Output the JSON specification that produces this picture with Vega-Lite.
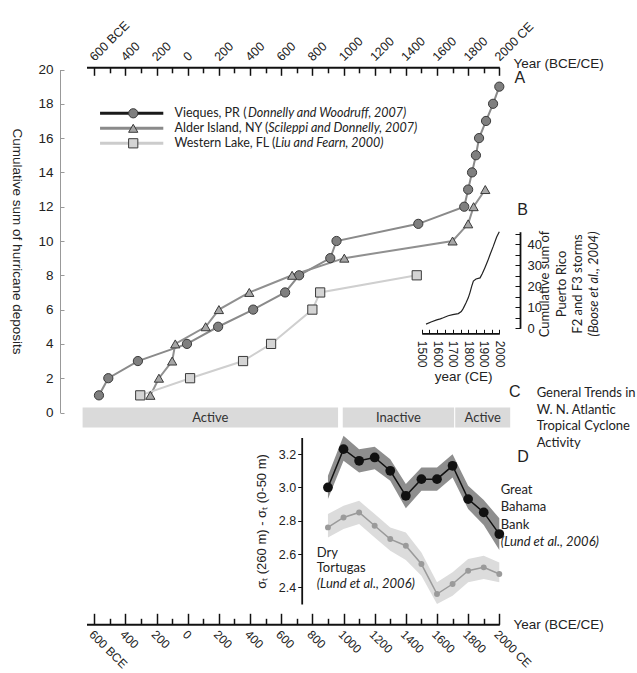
{
  "$schema": "https://vega.github.io/schema/vega-lite/v6.json",
  "width": 637,
  "height": 673,
  "autosize": "none",
  "padding": 0,
  "background": "white",
  "config": {
    "view": {"stroke": null},
    "axis": {"grid": false, "labelFont": "Liberation Sans", "titleFont": "Liberation Sans", "titleFontWeight": "normal", "labelColor": "#222", "titleColor": "#222", "labelOverlap": false, "labelFlush": false, "labelBound": false},
    "text": {"font": "Lato", "fontSize": 13, "color": "#222"}
  },
  "datasets": {
    "deposits": [
      {"site": "Vieques", "year": -570, "count": 1}, {"site": "Vieques", "year": -510, "count": 2}, {"site": "Vieques", "year": -320, "count": 3}, {"site": "Vieques", "year": -5, "count": 4}, {"site": "Vieques", "year": 195, "count": 5}, {"site": "Vieques", "year": 420, "count": 6}, {"site": "Vieques", "year": 625, "count": 7}, {"site": "Vieques", "year": 715, "count": 8}, {"site": "Vieques", "year": 915, "count": 9}, {"site": "Vieques", "year": 955, "count": 10}, {"site": "Vieques", "year": 1480, "count": 11}, {"site": "Vieques", "year": 1775, "count": 12}, {"site": "Vieques", "year": 1800, "count": 13}, {"site": "Vieques", "year": 1825, "count": 14}, {"site": "Vieques", "year": 1850, "count": 15}, {"site": "Vieques", "year": 1870, "count": 16}, {"site": "Vieques", "year": 1915, "count": 17}, {"site": "Vieques", "year": 1960, "count": 18}, {"site": "Vieques", "year": 2000, "count": 19},
      {"site": "Alder", "year": -240, "count": 1}, {"site": "Alder", "year": -185, "count": 2}, {"site": "Alder", "year": -100, "count": 3}, {"site": "Alder", "year": -80, "count": 4}, {"site": "Alder", "year": 115, "count": 5}, {"site": "Alder", "year": 200, "count": 6}, {"site": "Alder", "year": 395, "count": 7}, {"site": "Alder", "year": 670, "count": 8}, {"site": "Alder", "year": 1005, "count": 9}, {"site": "Alder", "year": 1700, "count": 10}, {"site": "Alder", "year": 1800, "count": 11}, {"site": "Alder", "year": 1835, "count": 12}, {"site": "Alder", "year": 1910, "count": 13},
      {"site": "Western", "year": -305, "count": 1}, {"site": "Western", "year": 15, "count": 2}, {"site": "Western", "year": 355, "count": 3}, {"site": "Western", "year": 535, "count": 4}, {"site": "Western", "year": 800, "count": 6}, {"site": "Western", "year": 850, "count": 7}, {"site": "Western", "year": 1470, "count": 8}
    ],
    "legend": [
      {"site": "Vieques", "name": "Vieques, PR (", "cite": "Donnelly and Woodruff, 2007)"},
      {"site": "Alder", "name": "Alder Island, NY (", "cite": "Scileppi and Donnelly, 2007)"},
      {"site": "Western", "name": "Western Lake, FL (", "cite": "Liu and Fearn, 2000)"}
    ],
    "storms": [
      {"year": 1528, "storms": 2}, {"year": 1560, "storms": 3}, {"year": 1597, "storms": 4}, {"year": 1620, "storms": 4.5}, {"year": 1639, "storms": 5}, {"year": 1671, "storms": 6}, {"year": 1700, "storms": 6.5}, {"year": 1736, "storms": 7}, {"year": 1755, "storms": 8}, {"year": 1768, "storms": 9.5}, {"year": 1785, "storms": 12}, {"year": 1800, "storms": 14.5}, {"year": 1811, "storms": 17}, {"year": 1822, "storms": 20}, {"year": 1833, "storms": 22.5}, {"year": 1850, "storms": 23.5}, {"year": 1876, "storms": 24}, {"year": 1890, "storms": 26}, {"year": 1908, "storms": 29}, {"year": 1925, "storms": 32}, {"year": 1940, "storms": 35}, {"year": 1961, "storms": 39}, {"year": 1983, "storms": 43.5}, {"year": 2000, "storms": 46}
    ],
    "trends": [
      {"label": "Active", "start": -675, "end": 965},
      {"label": "Inactive", "start": 995, "end": 1710},
      {"label": "Active", "start": 1717, "end": 2070}
    ],
    "sigma": [
      {"site": "GBB", "year": 900, "value": 3.0, "lo": 2.93, "hi": 3.07},
      {"site": "GBB", "year": 1000, "value": 3.23, "lo": 3.16, "hi": 3.31},
      {"site": "GBB", "year": 1100, "value": 3.16, "lo": 3.09, "hi": 3.23},
      {"site": "GBB", "year": 1200, "value": 3.18, "lo": 3.11, "hi": 3.245},
      {"site": "GBB", "year": 1300, "value": 3.1, "lo": 3.04, "hi": 3.17},
      {"site": "GBB", "year": 1400, "value": 2.95, "lo": 2.875, "hi": 3.02},
      {"site": "GBB", "year": 1500, "value": 3.05, "lo": 2.98, "hi": 3.12},
      {"site": "GBB", "year": 1600, "value": 3.05, "lo": 2.98, "hi": 3.12},
      {"site": "GBB", "year": 1700, "value": 3.13, "lo": 3.06, "hi": 3.2},
      {"site": "GBB", "year": 1800, "value": 2.93, "lo": 2.87, "hi": 3.01},
      {"site": "GBB", "year": 1900, "value": 2.85, "lo": 2.775, "hi": 2.925},
      {"site": "GBB", "year": 2000, "value": 2.72, "lo": 2.625, "hi": 2.815},
      {"site": "DT", "year": 900, "value": 2.76, "lo": 2.7, "hi": 2.84},
      {"site": "DT", "year": 1000, "value": 2.82, "lo": 2.75, "hi": 2.89},
      {"site": "DT", "year": 1100, "value": 2.85, "lo": 2.78, "hi": 2.92},
      {"site": "DT", "year": 1200, "value": 2.77, "lo": 2.7, "hi": 2.84},
      {"site": "DT", "year": 1300, "value": 2.69, "lo": 2.62, "hi": 2.76},
      {"site": "DT", "year": 1400, "value": 2.65, "lo": 2.565, "hi": 2.73},
      {"site": "DT", "year": 1500, "value": 2.54, "lo": 2.47, "hi": 2.61},
      {"site": "DT", "year": 1600, "value": 2.36, "lo": 2.3, "hi": 2.43},
      {"site": "DT", "year": 1700, "value": 2.42, "lo": 2.35, "hi": 2.49},
      {"site": "DT", "year": 1800, "value": 2.5, "lo": 2.43, "hi": 2.57},
      {"site": "DT", "year": 1900, "value": 2.52, "lo": 2.45, "hi": 2.59},
      {"site": "DT", "year": 2000, "value": 2.48, "lo": 2.43, "hi": 2.55}
    ]
  },
  "layer": [
    {
      "data": {"name": "deposits"},
      "resolve": {"axis": {"x": "independent", "y": "independent"}},
      "layer": [
        {
          "mark": {"type": "line", "strokeWidth": 2},
          "encoding": {
            "x": {"field": "year", "type": "quantitative", "scale": {"domain": [-650, 2000], "range": [86.5, 499.3], "nice": false, "zero": false},
              "axis": {"orient": "top", "offset": -67.3, "values": [-600, -400, -200, 0, 200, 400, 600, 800, 1000, 1200, 1400, 1600, 1800, 2000],
                "labelExpr": "datum.value == -600 ? '600 BCE' : (datum.value == 2000 ? '2000 CE' : format(abs(datum.value), 'd'))",
                "labelAngle": -45, "labelAlign": "left", "labelBaseline": "alphabetic", "labelPadding": 14, "labelFontSize": 12.5,
                "tickSize": -8,
                "tickColor": "#111", "tickWidth": 1.5, "domainColor": "#111", "domainWidth": 2,
                "title": "Year (BCE/CE)", "titleX": 513, "titleY": -4, "titleAlign": "left", "titleBaseline": "middle", "titleAngle": 0, "titleFontSize": 13.5}},
            "y": {"field": "count", "type": "quantitative", "scale": {"domain": [0, 20], "range": [412.5, 69.5], "nice": false, "zero": false},
              "axis": {"orient": "left", "offset": -60, "values": [0, 2, 4, 6, 8, 10, 12, 14, 16, 18, 20], "tickSize": -4, "labelPadding": 11, "labelFontSize": 13.5, "domainColor": "#999", "tickColor": "#999",
                "title": "Cumulative sum of hurricane deposits", "titleAngle": 90, "titleX": -44, "titleY": 241, "titleAlign": "center", "titleBaseline": "middle", "titleFontSize": 13.5}},
            "color": {"field": "site", "type": "nominal", "scale": {"domain": ["Vieques", "Alder", "Western"], "range": ["#8a8a8a", "#909090", "#cfcfcf"]}, "legend": null}
          }
        },
        {
          "mark": {"type": "point", "filled": true, "stroke": "#3a3a3a", "strokeWidth": 1, "opacity": 1, "size": 85},
          "encoding": {
            "x": {"field": "year", "type": "quantitative",
              "axis": {"orient": "bottom", "offset": -605.7, "values": [-500, -300, -100, 100, 300, 500, 700, 900, 1100, 1300, 1500, 1700, 1900], "tickSize": 5.5, "tickColor": "#111", "tickWidth": 1.5, "labels": false, "domain": false, "title": null}},
            "y": {"field": "count", "type": "quantitative", "axis": null},
            "shape": {"field": "site", "type": "nominal", "scale": {"domain": ["Vieques", "Alder", "Western"], "range": ["circle", "triangle-up", "square"]}, "legend": null},
            "fill": {"field": "site", "type": "nominal", "scale": {"domain": ["Vieques", "Alder", "Western"], "range": ["#7f7f7f", "#a6a6a6", "#d4d4d4"]}, "legend": null}
          }
        },
        {
          "data": {"values": [{}]},
          "mark": {"type": "text", "text": "A", "font": "Liberation Sans", "fontSize": 16, "align": "center", "baseline": "middle"},
          "encoding": {"x": {"datum": 2132, "axis": null}, "y": {"datum": 19.49, "axis": null}}
        },
        {
          "data": {"values": [{}]},
          "mark": {"type": "text", "text": "B", "font": "Liberation Sans", "fontSize": 16, "align": "center", "baseline": "middle"},
          "encoding": {"x": {"datum": 2150, "axis": null}, "y": {"datum": 11.81, "axis": null}}
        }
      ]
    },
    {
      "data": {"name": "legend"},
      "resolve": {"axis": {"x": "independent", "y": "independent"}},
      "layer": [
        {
          "mark": {"type": "rule", "strokeWidth": 3},
          "encoding": {
            "x": {"datum": -563, "scale": {"domain": [-650, 2000], "range": [86.5, 499.3], "nice": false, "zero": false}, "axis": null},
            "x2": {"datum": -157},
            "y": {"field": "site", "type": "nominal", "scale": {"type": "point", "domain": ["Vieques", "Alder", "Western"], "range": [113.3, 143.3], "padding": 0}, "axis": null},
            "stroke": {"field": "site", "type": "nominal", "scale": {"domain": ["Vieques", "Alder", "Western"], "range": ["#1a1a1a", "#8a8a8a", "#cccccc"]}, "legend": null}
          }
        },
        {
          "mark": {"type": "point", "filled": true, "stroke": "#3a3a3a", "strokeWidth": 1, "opacity": 1, "size": 85},
          "encoding": {
            "x": {"datum": -350, "axis": null},
            "y": {"field": "site", "type": "nominal", "axis": null},
            "shape": {"field": "site", "type": "nominal", "scale": {"domain": ["Vieques", "Alder", "Western"], "range": ["circle", "triangle-up", "square"]}, "legend": null},
            "fill": {"field": "site", "type": "nominal", "scale": {"domain": ["Vieques", "Alder", "Western"], "range": ["#7f7f7f", "#a6a6a6", "#d4d4d4"]}, "legend": null}
          }
        },
        {
          "mark": {"type": "text", "align": "left", "baseline": "middle", "fontSize": 12.5},
          "encoding": {"x": {"datum": -85, "axis": null}, "y": {"field": "site", "type": "nominal", "axis": null}, "text": {"field": "name"}}
        },
        {
          "transform": [{"filter": "datum.site == 'Vieques'"}],
          "mark": {"type": "text", "align": "left", "baseline": "middle", "fontSize": 12.5, "fontStyle": "italic"},
          "encoding": {"x": {"datum": 387, "axis": null}, "y": {"field": "site", "type": "nominal", "axis": null}, "text": {"field": "cite"}}
        },
        {
          "transform": [{"filter": "datum.site == 'Alder'"}],
          "mark": {"type": "text", "align": "left", "baseline": "middle", "fontSize": 12.5, "fontStyle": "italic"},
          "encoding": {"x": {"datum": 517, "axis": null}, "y": {"field": "site", "type": "nominal", "axis": null}, "text": {"field": "cite"}}
        },
        {
          "transform": [{"filter": "datum.site == 'Western'"}],
          "mark": {"type": "text", "align": "left", "baseline": "middle", "fontSize": 12.5, "fontStyle": "italic"},
          "encoding": {"x": {"datum": 562, "axis": null}, "y": {"field": "site", "type": "nominal", "axis": null}, "text": {"field": "cite"}}
        }
      ]
    },
    {
      "data": {"name": "storms"},
      "resolve": {"axis": {"x": "independent", "y": "independent"}},
      "layer": [
        {
          "mark": {"type": "line", "color": "#222", "strokeWidth": 1.2},
          "encoding": {
            "x": {"field": "year", "type": "quantitative", "scale": {"domain": [1500, 2000], "range": [421.7, 499.3], "nice": false, "zero": false},
              "axis": {"orient": "bottom", "offset": -339.7, "values": [1500, 1550, 1600, 1650, 1700, 1750, 1800, 1850, 1900, 1950, 2000], "format": "d",
                "labelExpr": "datum.value % 100 == 0 ? datum.label : ''", "labelAngle": 90, "labelAlign": "left", "labelBaseline": "middle", "labelPadding": 11, "labelFontSize": 12,
                "tickSize": -4, "tickColor": "#111", "domainColor": "#111", "domainWidth": 1.8,
                "title": "year (CE)", "titleX": 463, "titleY": 43, "titleAlign": "center", "titleBaseline": "middle", "titleAngle": 0, "titleFontSize": 13.5}},
            "y": {"field": "storms", "type": "quantitative", "scale": {"domain": [0, 46], "range": [328.3, 231.7], "nice": false, "zero": false},
              "axis": {"orient": "right", "offset": -117, "values": [0, 5, 10, 15, 20, 25, 30, 35, 40, 45],
                "labelExpr": "datum.value % 10 == 0 ? datum.label : ''", "labelPadding": 12, "labelFontSize": 13,
                "tickSize": -5, "tickColor": "#111", "domainColor": "#111", "domainWidth": 1.8, "title": null}}
          }
        },
        {
          "data": {"values": [{}]},
          "mark": {"type": "text", "angle": 270, "align": "center", "baseline": "middle", "lineHeight": 16.7, "fontSize": 13, "text": ["Cumulative sum of", "Puerto Rico", "F2 and F3 storms"]},
          "encoding": {"x": {"datum": 2294, "axis": null}, "y": {"datum": 21.1, "axis": null}}
        },
        {
          "data": {"values": [{}]},
          "mark": {"type": "text", "angle": 270, "align": "center", "baseline": "middle", "fontSize": 13, "fontStyle": "italic", "text": "(Boose et al., 2004)"},
          "encoding": {"x": {"datum": 2612, "axis": null}, "y": {"datum": 21.1, "axis": null}}
        }
      ]
    },
    {
      "data": {"name": "trends"},
      "resolve": {"axis": {"x": "independent", "y": "independent"}},
      "layer": [
        {
          "mark": {"type": "rect", "fill": "#dadada"},
          "encoding": {
            "x": {"field": "start", "type": "quantitative", "scale": {"domain": [-650, 2000], "range": [86.5, 499.3], "nice": false, "zero": false}, "axis": null},
            "x2": {"field": "end"},
            "y": {"datum": 0, "scale": {"domain": [0, 1], "range": [427.5, 407.5], "nice": false, "zero": false}, "axis": null},
            "y2": {"datum": 1}
          }
        },
        {
          "transform": [{"fold": ["start", "end"], "as": ["edge", "yr"]}],
          "mark": {"type": "text", "fontSize": 13, "color": "#333", "align": "center", "baseline": "middle"},
          "encoding": {
            "x": {"aggregate": "mean", "field": "yr", "type": "quantitative", "axis": null},
            "y": {"datum": 0.5, "axis": null},
            "text": {"field": "label", "type": "nominal"},
            "detail": {"field": "start", "type": "quantitative"}
          }
        },
        {
          "data": {"values": [{}]},
          "mark": {"type": "text", "text": "C", "font": "Liberation Sans", "fontSize": 16, "align": "center", "baseline": "middle"},
          "encoding": {"x": {"datum": 2100, "axis": null}, "y": {"datum": 1.79, "axis": null}}
        },
        {
          "data": {"values": [{}]},
          "mark": {"type": "text", "text": ["General Trends in", "W. N. Atlantic", "Tropical Cyclone", "Activity"], "lineHeight": 16.7, "fontSize": 13, "align": "left", "baseline": "middle"},
          "encoding": {"x": {"datum": 2240, "axis": null}, "y": {"datum": 1.725, "axis": null}}
        }
      ]
    },
    {
      "data": {"name": "sigma"},
      "resolve": {"axis": {"x": "independent", "y": "independent"}},
      "layer": [
        {
          "mark": {"type": "area", "opacity": 1},
          "encoding": {
            "x": {"field": "year", "type": "quantitative", "scale": {"domain": [-650, 2000], "range": [86.5, 499.3], "nice": false, "zero": false},
              "axis": {"orient": "bottom", "offset": -48.7, "values": [-600, -400, -200, 0, 200, 400, 600, 800, 1000, 1200, 1400, 1600, 1800, 2000],
                "labelExpr": "datum.value == -600 ? '600 BCE' : (datum.value == 2000 ? '2000 CE' : format(abs(datum.value), 'd'))",
                "labelAngle": 45, "labelAlign": "left", "labelBaseline": "top", "labelPadding": 15, "labelFontSize": 12,
                "tickSize": -11,
                "tickColor": "#111", "tickWidth": 1.5, "domainColor": "#111", "domainWidth": 2,
                "title": "Year (BCE/CE)", "titleX": 513, "titleY": 0, "titleAlign": "left", "titleBaseline": "middle", "titleAngle": 0, "titleFontSize": 13.5}},
            "y": {"field": "lo", "type": "quantitative", "scale": {"domain": [2.3, 3.3], "range": [604, 437.5], "nice": false, "zero": false},
              "axis": {"orient": "left", "offset": -301.7, "values": [2.4, 2.6, 2.8, 3.0, 3.2], "format": ".1f", "tickSize": 4, "labelPadding": 2, "labelFontSize": 12.5,
                "domainColor": "#111", "domainWidth": 1.8, "tickColor": "#111",
                "title": "σₜ (260 m) - σₜ (0-50 m)", "titleAngle": 270, "titleX": -40, "titleY": 521, "titleAlign": "center", "titleBaseline": "middle", "titleFontSize": 13}},
            "y2": {"field": "hi"},
            "fill": {"field": "site", "type": "nominal", "scale": {"domain": ["GBB", "DT"], "range": ["#8e8e8e", "#dcdcdc"]}, "legend": null}
          }
        },
        {
          "mark": {"type": "line", "strokeWidth": 1.5},
          "encoding": {
            "x": {"field": "year", "type": "quantitative",
              "axis": {"orient": "top", "offset": -624.3, "values": [-500, -300, -100, 100, 300, 500, 700, 900, 1100, 1300, 1500, 1700, 1900], "tickSize": 6, "tickColor": "#111", "tickWidth": 1.5, "labels": false, "domain": false, "title": null}},
            "y": {"field": "value", "type": "quantitative", "axis": null},
            "color": {"field": "site", "type": "nominal", "scale": {"domain": ["GBB", "DT"], "range": ["#111111", "#9a9a9a"]}, "legend": null}
          }
        },
        {
          "mark": {"type": "point", "filled": true, "opacity": 1},
          "encoding": {
            "x": {"field": "year", "type": "quantitative", "axis": null},
            "y": {"field": "value", "type": "quantitative", "axis": null},
            "color": {"field": "site", "type": "nominal", "scale": {"domain": ["GBB", "DT"], "range": ["#111111", "#9a9a9a"]}, "legend": null},
            "size": {"field": "site", "type": "nominal", "scale": {"domain": ["GBB", "DT"], "range": [95, 35]}, "legend": null}
          }
        },
        {
          "data": {"values": [{}]},
          "mark": {"type": "text", "text": "D", "font": "Liberation Sans", "fontSize": 16, "align": "center", "baseline": "middle"},
          "encoding": {"x": {"datum": 2152, "axis": null}, "y": {"datum": 3.185, "axis": null}}
        },
        {
          "data": {"values": [{}]},
          "mark": {"type": "text", "text": ["Great", "Bahama", "Bank"], "lineHeight": 17.5, "fontSize": 13, "align": "left", "baseline": "middle"},
          "encoding": {"x": {"datum": 2009, "axis": null}, "y": {"datum": 2.985, "axis": null}}
        },
        {
          "data": {"values": [{}]},
          "mark": {"type": "text", "text": "(Lund et al., 2006)", "fontSize": 13, "fontStyle": "italic", "align": "left", "baseline": "middle"},
          "encoding": {"x": {"datum": 2009, "axis": null}, "y": {"datum": 2.674, "axis": null}}
        },
        {
          "data": {"values": [{}]},
          "mark": {"type": "text", "text": ["Dry", "Tortugas"], "lineHeight": 15, "fontSize": 13, "align": "left", "baseline": "middle"},
          "encoding": {"x": {"datum": 828, "axis": null}, "y": {"datum": 2.608, "axis": null}}
        },
        {
          "data": {"values": [{}]},
          "mark": {"type": "text", "text": "(Lund et al., 2006)", "fontSize": 13, "fontStyle": "italic", "align": "left", "baseline": "middle"},
          "encoding": {"x": {"datum": 828, "axis": null}, "y": {"datum": 2.419, "axis": null}}
        }
      ]
    }
  ],
  "resolve": {"scale": {"x": "independent", "y": "independent", "color": "independent", "fill": "independent", "shape": "independent", "stroke": "independent", "size": "independent"}}
}
